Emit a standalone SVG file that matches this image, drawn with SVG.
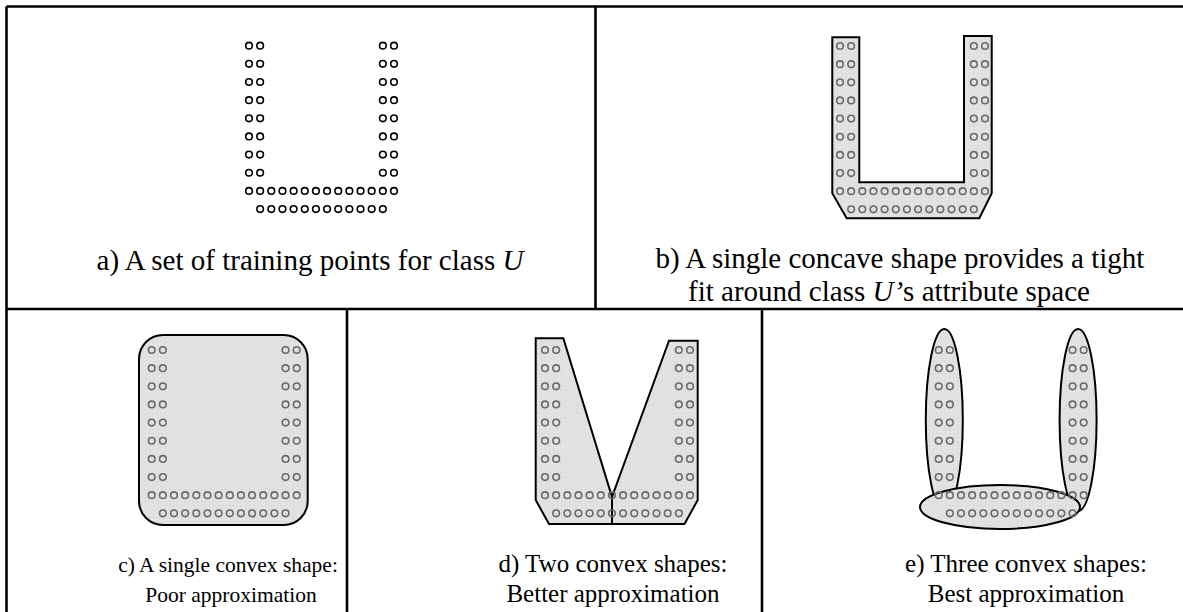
<svg xmlns="http://www.w3.org/2000/svg" xmlns:xlink="http://www.w3.org/1999/xlink" width="1183" height="612" viewBox="0 0 1183 612">
<style>
.frame{stroke:#000;stroke-width:2.6;fill:none}
.shape{fill:url(#dots);stroke:#000;stroke-width:2}
.lbl{font-family:"Liberation Serif","Times New Roman",serif;fill:#000;text-anchor:middle}
.top{font-size:29px}
.bot{font-size:25px}
.botc{font-size:21.5px}
.it{font-style:italic}
.ptsA{stroke:#000;stroke-width:1.6;fill:none}
.ptsG{stroke:#6a6a6a;stroke-width:1.6;fill:none}
</style>
<defs>
<pattern id="dots" width="4" height="4" patternUnits="userSpaceOnUse"><rect width="4" height="4" fill="#e2e2e2"/><rect x="1" y="1" width="1" height="1" fill="#cfcfcf"/></pattern>
<g id="pair"><circle cx="0" cy="0" r="3.3"/><circle cx="11.15" cy="0" r="3.3"/></g>
<g id="row2"><use xlink:href="#pair"/><use xlink:href="#pair" x="133.85"/></g>
<g id="U">
<use xlink:href="#row2" y="0"/><use xlink:href="#row2" y="18.15"/><use xlink:href="#row2" y="36.3"/><use xlink:href="#row2" y="54.45"/>
<use xlink:href="#row2" y="72.6"/><use xlink:href="#row2" y="90.75"/><use xlink:href="#row2" y="108.9"/><use xlink:href="#row2" y="127.05"/>
<use xlink:href="#pair" y="145.2"/><use xlink:href="#pair" x="22.31" y="145.2"/><use xlink:href="#pair" x="44.62" y="145.2"/><use xlink:href="#pair" x="66.92" y="145.2"/><use xlink:href="#pair" x="89.23" y="145.2"/><use xlink:href="#pair" x="111.54" y="145.2"/><use xlink:href="#pair" x="133.85" y="145.2"/>
<use xlink:href="#pair" x="11.15" y="163.35"/><use xlink:href="#pair" x="33.46" y="163.35"/><use xlink:href="#pair" x="55.77" y="163.35"/><use xlink:href="#pair" x="78.08" y="163.35"/><use xlink:href="#pair" x="100.38" y="163.35"/><use xlink:href="#pair" x="122.69" y="163.35"/>
</g>
</defs>
<rect width="1183" height="612" fill="#fff"/>
<g id="frame">
<line class="frame" x1="6.5" y1="6.5" x2="1183" y2="6.5"/>
<line class="frame" x1="6.5" y1="6.5" x2="6.5" y2="612"/>
<line class="frame" x1="595.5" y1="6.5" x2="595.5" y2="309"/>
<line class="frame" x1="6.5" y1="309" x2="1183" y2="309"/>
<line class="frame" x1="347" y1="309" x2="347" y2="612"/>
<line class="frame" x1="762" y1="309" x2="762" y2="612"/>
</g>
<g id="panel-a">
<use xlink:href="#U" class="ptsA" x="249" y="45.7"/>
<text class="lbl top" x="310" y="270">a) A set of training points for class <tspan class="it">U</tspan></text>
</g>
<g id="panel-b">
<polygon class="shape" points="832.3,37.3 859.3,37.3 859.3,182.3 964,182.3 964,36 991.7,36 991.7,193.3 979.3,218.3 846.7,218.3 832.3,193.3"/>
<use xlink:href="#U" class="ptsG" x="840" y="46"/>
<text class="lbl top" x="900" y="268">b) A single concave shape provides a tight</text>
<text class="lbl top" x="889" y="301">fit around class <tspan class="it">U’</tspan>s attribute space</text>
</g>
<g id="panel-c">
<rect class="shape" x="139" y="335" width="168.7" height="190" rx="24" ry="24"/>
<use xlink:href="#U" class="ptsG" x="151.7" y="350"/>
<text class="lbl botc" x="228" y="572">c) A single convex shape:</text>
<text class="lbl botc" x="231" y="602">Poor approximation</text>
</g>
<g id="panel-d">
<polygon class="shape" points="535.7,338.3 563.3,338.3 612,497 612,524 549,524 535.7,500"/>
<polygon class="shape" points="669,340.7 697.7,340.7 697.7,500 684.5,524 612,524 612,497"/>
<use xlink:href="#U" class="ptsG" x="545" y="350"/>
<text class="lbl bot" x="613" y="572">d) Two convex shapes:</text>
<text class="lbl bot" x="613" y="602">Better approximation</text>
</g>
<g id="panel-e">
<ellipse class="shape" cx="944.3" cy="420" rx="18.5" ry="91"/>
<ellipse class="shape" cx="1078.1" cy="420" rx="18.5" ry="91"/>
<ellipse class="shape" cx="1000" cy="507" rx="80" ry="22"/>
<use xlink:href="#U" class="ptsG" x="938.7" y="350"/>
<text class="lbl bot" x="1026" y="572">e) Three convex shapes:</text>
<text class="lbl bot" x="1026" y="602">Best approximation</text>
</g>
</svg>
